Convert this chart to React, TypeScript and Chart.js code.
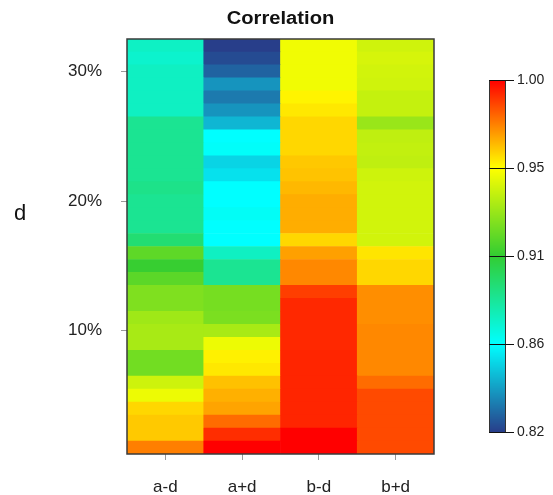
import React, { useEffect, useRef } from 'react';
import { Chart, registerables } from 'chart.js';

Chart.register(...registerables);

// ---------- data ----------
const columns = ['a-d', 'a+d', 'b-d', 'b+d'];

// rows: d = 1% .. 32% (bottom to top)
const rowPercents = [
  1, 2, 3, 4, 5, 6, 7, 8, 9, 10, 11, 12, 13, 14, 15, 16,
  17, 18, 19, 20, 21, 22, 23, 24, 25, 26, 27, 28, 29, 30, 31, 32,
];

const corrAminusD = [
  0.9775, 0.9645, 0.9645, 0.962, 0.951, 0.944, 0.924, 0.924, 0.936, 0.936, 0.934, 0.927, 0.927, 0.919, 0.911, 0.9196,
  0.896, 0.889, 0.889, 0.889, 0.891, 0.889, 0.889, 0.889, 0.889, 0.889, 0.8785, 0.8785, 0.8785, 0.8785, 0.876, 0.878,
];
const corrAplusD = [
  1.0, 0.992, 0.981, 0.971, 0.969, 0.966, 0.959, 0.9575, 0.951, 0.936, 0.926, 0.925, 0.925, 0.889, 0.889, 0.8785,
  0.865, 0.865, 0.867, 0.865, 0.865, 0.858, 0.855, 0.866, 0.865, 0.848, 0.84, 0.834, 0.84, 0.8287, 0.823, 0.82,
];
const corrBminusD = [
  1.0, 1.0, 0.9935, 0.9935, 0.9935, 0.9935, 0.9935, 0.9935, 0.993, 0.993, 0.993, 0.993, 0.989, 0.976, 0.976, 0.9717,
  0.962, 0.9695, 0.9695, 0.9695, 0.9675, 0.9655, 0.9647, 0.962, 0.962, 0.962, 0.959, 0.957, 0.952, 0.952, 0.952, 0.952,
];
const corrBplusD = [
  0.987, 0.987, 0.987, 0.987, 0.987, 0.981, 0.976, 0.976, 0.976, 0.976, 0.975, 0.975, 0.975, 0.962, 0.962, 0.9595,
  0.945, 0.945, 0.945, 0.945, 0.945, 0.944, 0.941, 0.9417, 0.941, 0.9325, 0.942, 0.942, 0.9445, 0.945, 0.946, 0.9445,
];

const seriesByColumn = [corrAminusD, corrAplusD, corrBminusD, corrBplusD];

const yTickValues = [10, 20, 30];
const colorbarTicks = [0.82, 0.865, 0.91, 0.955, 1.0];
const colorbarLabels = ['0.82', '0.86', '0.91', '0.95', '1.00'];
const valueMin = 0.82;
const valueMax = 1.0;

const paletteStops: [number, string][] = [
  [0.82, '#283E8A'],
  [0.865, '#00FFFF'],
  [0.91, '#32CD32'],
  [0.955, '#FFFF00'],
  [1.0, '#FF0000'],
];

// ---------- helpers ----------
function hexToRgb(h: string) {
  const n = parseInt(h.slice(1), 16);
  return [(n >> 16) & 255, (n >> 8) & 255, n & 255];
}
function colorFor(v: number) {
  const x = Math.min(valueMax, Math.max(valueMin, v));
  for (let i = 0; i < paletteStops.length - 1; i++) {
    const [v0, c0] = paletteStops[i];
    const [v1, c1] = paletteStops[i + 1];
    if (x <= v1 || i === paletteStops.length - 2) {
      const t = (x - v0) / (v1 - v0);
      const a = hexToRgb(c0);
      const b = hexToRgb(c1);
      const r = Math.round(a[0] + (b[0] - a[0]) * t);
      const g = Math.round(a[1] + (b[1] - a[1]) * t);
      const bl = Math.round(a[2] + (b[2] - a[2]) * t);
      return `rgb(${r},${g},${bl})`;
    }
  }
  return paletteStops[paletteStops.length - 1][1];
}

const FONT = '"Liberation Sans", Arial, Helvetica, sans-serif';
const W = 553;
const H = 495;

const decorPlugin = {
  id: 'decor',
  afterDatasetsDraw(chart: any) {
    const { ctx, chartArea } = chart;
    const { left, right, top, bottom } = chartArea;
    ctx.save();
    // plot border
    ctx.strokeStyle = '#3a3a3a';
    ctx.lineWidth = 1.5;
    ctx.strokeRect(left, top, right - left, bottom - top);

    // title (slightly widened like the reference)
    ctx.fillStyle = '#111';
    ctx.font = `bold 18px ${FONT}`;
    ctx.textAlign = 'center';
    ctx.textBaseline = 'middle';
    ctx.save();
    ctx.translate((left + right) / 2, 19);
    ctx.scale(1.12, 1);
    ctx.fillText('Correlation', 0, 0);
    ctx.restore();

    // y axis title
    ctx.font = `22px ${FONT}`;
    ctx.fillText('d', 20, 214);

    // colorbar
    const cbLeft = 489;
    const cbW = 16;
    const cbTop = 80;
    const cbBottom = 432;
    const cbH = cbBottom - cbTop;
    for (let i = 0; i < cbH; i++) {
      const v = valueMax - ((i + 0.5) / cbH) * (valueMax - valueMin);
      ctx.fillStyle = colorFor(v);
      ctx.fillRect(cbLeft, cbTop + i, cbW, 1.2);
    }
    ctx.strokeStyle = '#333';
    ctx.lineWidth = 1;
    ctx.strokeRect(cbLeft + 0.5, cbTop + 0.5, cbW, cbH);
    ctx.font = `14px ${FONT}`;
    ctx.textAlign = 'left';
    ctx.textBaseline = 'middle';
    colorbarTicks.forEach((t, i) => {
      const y = cbBottom - ((t - valueMin) / (valueMax - valueMin)) * cbH;
      ctx.strokeStyle = '#111';
      ctx.beginPath();
      ctx.moveTo(cbLeft, Math.round(y) + 0.5);
      ctx.lineTo(cbLeft + 25, Math.round(y) + 0.5);
      ctx.stroke();
      ctx.fillStyle = '#222';
      ctx.fillText(colorbarLabels[i], cbLeft + 28, y);
    });
    ctx.restore();
  },
};

export default function App() {
  const ref = useRef<HTMLCanvasElement>(null);
  useEffect(() => {
    if (!ref.current) return;
    const datasets = rowPercents.map((p, ri) => ({
      label: `${p}%`,
      data: columns.map(() => [p - 0.5, p + 0.5]),
      backgroundColor: columns.map((_, ci) => colorFor(seriesByColumn[ci][ri])),
      borderWidth: 0,
      grouped: false,
      barPercentage: 1,
      categoryPercentage: 1,
    }));
    const chart = new Chart(ref.current, {
      type: 'bar',
      data: { labels: columns, datasets: datasets as any },
      options: {
        animation: false,
        responsive: false,
        devicePixelRatio: 1,
        layout: { padding: { left: 0, right: W - 434, top: 39, bottom: 0 } },
        plugins: { legend: { display: false }, tooltip: { enabled: false }, title: { display: false } },
        scales: {
          x: {
            type: 'category',
            offset: true,
            border: { display: false },
            grid: { display: true, drawOnChartArea: false, drawTicks: true, tickLength: 6, color: '#999', offset: false },
            ticks: { color: '#222', font: { family: FONT, size: 17 }, padding: 17, maxRotation: 0 },
            afterFit: (s: any) => { s.height = H - 454; },
          },
          y: {
            type: 'linear',
            min: 0.5,
            max: 32.5,
            border: { display: false },
            grid: { display: true, drawOnChartArea: false, drawTicks: true, tickLength: 6, color: '#999' },
            afterBuildTicks: (s: any) => { s.ticks = yTickValues.map((v) => ({ value: v })); },
            ticks: {
              color: '#222',
              font: { family: FONT, size: 17 },
              padding: 19,
              callback: (v: any) => `${v}%`,
            },
            afterFit: (s: any) => { s.width = 127; },
          },
        },
      },
      plugins: [decorPlugin],
    });
    return () => chart.destroy();
  }, []);
  return (
    <div style={{ position: 'absolute', left: 0, top: 0, width: W, height: H, background: '#fff' }}>
      <canvas ref={ref} width={W} height={H} style={{ width: W, height: H, display: 'block' }} />
    </div>
  );
}
